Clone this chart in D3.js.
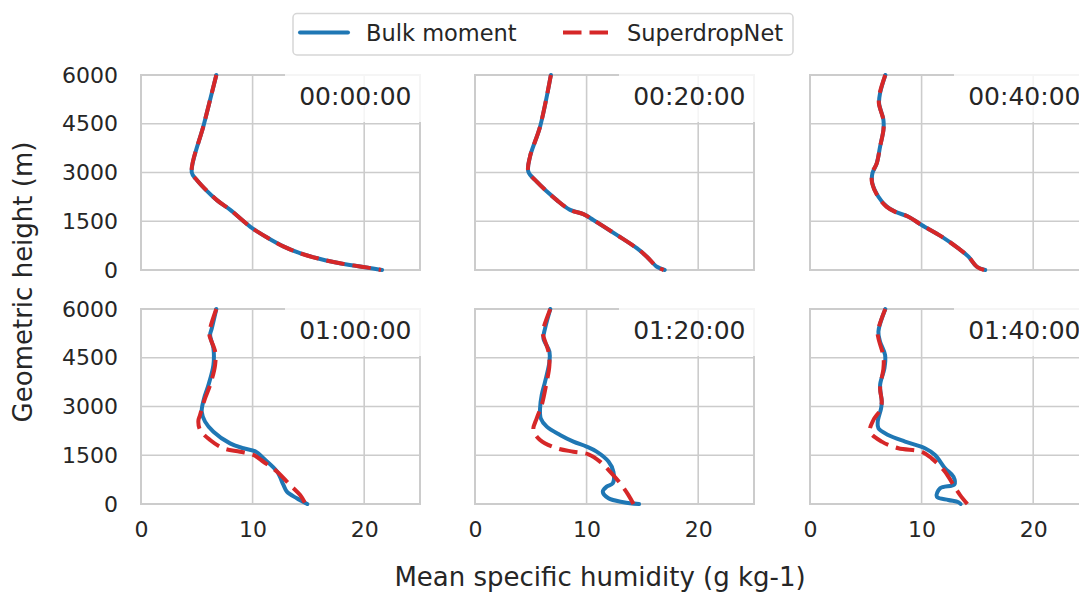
<!DOCTYPE html>
<html>
<head>
<meta charset="utf-8">
<script src="https://cdn.jsdelivr.net/npm/d3@7"></script>
<style>
  body { margin: 0; background: #fff; }
  svg { display: block; font-family: "DejaVu Sans", sans-serif; }
</style>
</head>
<body>
<svg id="chart" width="1079" height="594"></svg>
<script>
// panel titles
const times = ["00:00:00", "00:20:00", "00:40:00", "01:00:00", "01:20:00", "01:40:00"];
const seriesNames = ["Bulk moment", "SuperdropNet"];
const xTicks = [0, 10, 20];
const yTicks = [0, 1500, 3000, 4500, 6000];

// [specific humidity g/kg, height m], top to bottom
const bulk0000 = [[6.75,6000],[5.65,4500],[4.55,3000],[5.0,2770],[6.8,2150],[8.0,1850],[9.8,1330],[11.3,1000],[12.8,720],[14.3,510],[15.8,360],[17.25,245],[18.7,155],[20.2,80],[21.6,0]];
const sdn0000  = [[6.75,6000],[5.65,4500],[4.55,3000],[5.0,2770],[6.8,2150],[8.0,1850],[9.8,1330],[11.3,1000],[12.8,720],[14.3,510],[15.8,360],[17.25,245],[18.7,155],[20.2,80],[21.5,0]];

const bulk0020 = [[6.8,6000],[5.83,4410],[4.93,3490],[4.78,3025],[5.53,2720],[7.33,2150],[8.52,1850],[9.71,1720],[10.6,1540],[12.7,1080],[14.5,670],[15.4,410],[16.3,100],[17.0,0]];
const sdn0020  = [[6.8,6000],[5.83,4410],[4.93,3490],[4.78,3025],[5.53,2720],[7.33,2150],[8.52,1850],[9.71,1720],[10.6,1540],[12.7,1080],[14.5,670],[15.4,410],[16.3,100],[16.9,0]];

const bulk0040 = [[6.75,6000],[6.28,5440],[6.19,5130],[6.58,4615],[6.58,4310],[6.28,3795],[5.98,3280],[5.59,2975],[5.59,2665],[6.13,2255],[6.88,1950],[7.62,1795],[8.82,1640],[10.0,1385],[11.8,1025],[13.3,665],[14.2,410],[14.95,100],[15.7,0]];
const sdn0040  = [[6.75,6000],[6.25,5440],[6.17,5130],[6.58,4615],[6.58,4310],[6.28,3795],[5.98,3280],[5.56,2975],[5.57,2665],[6.1,2255],[6.85,1950],[7.6,1795],[8.82,1640],[10.0,1385],[11.8,1025],[13.3,665],[14.2,410],[14.95,100],[15.6,0]];

const bulk0100 = [[6.75,6000],[6.34,5400],[6.19,5200],[6.49,4790],[6.49,4280],[6.04,3660],[5.65,3250],[5.44,2840],[5.74,2535],[6.49,2225],[7.98,1865],[9.17,1715],[10.3,1610],[10.97,1405],[12.2,995],[12.76,585],[13.07,380],[13.96,175],[14.9,0]];
const sdn0100  = [[6.75,6000],[6.19,5400],[6.13,5200],[6.64,4690],[6.64,4280],[6.19,3660],[5.74,3250],[5.29,2740],[5.14,2560],[5.29,2280],[6.19,1970],[7.38,1715],[8.88,1610],[10.07,1510],[10.97,1300],[12.2,995],[13.36,585],[14.26,275],[14.75,0]];

const bulk0120 = [[6.75,6000],[6.28,5405],[6.13,5100],[6.67,4690],[6.67,4380],[6.28,3765],[5.98,3355],[5.83,2945],[5.89,2635],[6.43,2380],[7.62,2125],[8.82,1920],[10.0,1765],[10.9,1610],[11.96,1305],[12.4,995],[12.35,640],[11.8,535],[11.45,380],[11.96,175],[13.3,55],[14.7,0]];
const sdn0120  = [[6.75,6000],[6.13,5405],[6.07,5250],[6.58,4690],[6.67,4280],[6.37,3660],[5.98,3045],[5.53,2635],[5.23,2280],[5.83,1970],[7.33,1715],[8.82,1610],[10.16,1530],[11.2,1305],[12.1,995],[13.0,640],[13.75,275],[14.2,0]];

const bulk0140 = [[6.75,6000],[6.13,5305],[6.28,4995],[6.73,4585],[6.67,4175],[6.28,3660],[6.43,3150],[6.37,2945],[6.07,2535],[6.13,2330],[7.0,2125],[8.52,1920],[10.3,1715],[11.2,1510],[12.1,1100],[12.85,840],[12.94,605],[11.66,485],[11.36,225],[12.4,125],[13.3,55],[13.5,0]];
const sdn0140  = [[6.75,6000],[6.07,5305],[6.13,5100],[6.58,4535],[6.58,4175],[6.28,3560],[6.43,3150],[6.28,2890],[5.68,2585],[5.38,2225],[6.43,1920],[7.92,1715],[10.0,1610],[10.9,1405],[12.1,995],[12.85,585],[13.45,275],[14.1,0]];

const bulkSeries = [bulk0000, bulk0020, bulk0040, bulk0100, bulk0120, bulk0140];
const sdnSeries  = [sdn0000, sdn0020, sdn0040, sdn0100, sdn0120, sdn0140];

const blue = "#1f77b4", red = "#d62728", gridCol = "#cccccc", textCol = "#262626";
const dash = "18.5,8";

let svg = d3.select("#chart");
let pw = 279, ph = 195;
let colX = [141, 475, 810];
let rowY = [75, 309];

let x = d3.scaleLinear().domain([0, 25]).range([0, pw]);
let y = d3.scaleLinear().domain([0, 6000]).range([ph, 0]);

let line = d3.line()
  .x(d => x(d[0]))
  .y(d => y(d[1]))
  .curve(d3.curveCatmullRom.alpha(0.5));

svg.append("defs").append("clipPath").attr("id", "panelClip")
  .append("rect").attr("x", 0).attr("y", -3).attr("width", pw).attr("height", ph + 6);

times.forEach(function(t, i){
  let col = i % 3, row = Math.floor(i / 3);
  let g = svg.append("g").attr("transform", `translate(${colX[col]},${rowY[row]})`);

  // grid
  g.append("g").selectAll("line").data(xTicks).enter().append("line")
    .attr("x1", d => x(d)).attr("x2", d => x(d))
    .attr("y1", 0).attr("y2", ph)
    .attr("stroke", gridCol).attr("stroke-width", 1.6);
  g.append("g").selectAll("line").data(yTicks).enter().append("line")
    .attr("x1", 0).attr("x2", pw)
    .attr("y1", d => y(d)).attr("y2", d => y(d))
    .attr("stroke", gridCol).attr("stroke-width", 1.6);

  // spines
  g.append("rect")
    .attr("x", 0).attr("y", 0).attr("width", pw).attr("height", ph)
    .attr("fill", "none").attr("stroke", gridCol).attr("stroke-width", 2);

  let curves = g.append("g").attr("clip-path", "url(#panelClip)");
  curves.append("path")
    .attr("d", line(bulkSeries[i]))
    .attr("fill", "none").attr("stroke", blue)
    .attr("stroke-width", 4).attr("stroke-linejoin", "round").attr("stroke-linecap", "round");
  curves.append("path")
    .attr("d", line(sdnSeries[i]))
    .attr("fill", "none").attr("stroke", red)
    .attr("stroke-width", 4).attr("stroke-dasharray", dash).attr("stroke-linejoin", "round");

  // time label box
  g.append("rect")
    .attr("x", 144).attr("y", -5).attr("width", 140).attr("height", 52)
    .attr("fill", "#fff").attr("fill-opacity", 0.8);
  g.append("text")
    .attr("x", 270.5).attr("y", 30)
    .attr("text-anchor", "end")
    .attr("font-size", 25).attr("fill", textCol)
    .text(t);

  // tick labels
  if (col === 0){
    let ya = d3.axisLeft(y).tickValues(yTicks).tickFormat(d3.format("d")).tickSize(0).tickPadding(23);
    let yg = g.append("g").call(ya);
    yg.select(".domain").remove();
    yg.selectAll("text").attr("font-size", 22).attr("fill", textCol)
      .attr("font-family", "DejaVu Sans");
  }
  if (row === 1){
    let xa = d3.axisBottom(x).tickValues(xTicks).tickSize(0).tickPadding(17);
    let xg = g.append("g").attr("transform", `translate(0,${ph})`).call(xa);
    xg.select(".domain").remove();
    xg.selectAll("text").attr("font-size", 22).attr("fill", textCol)
      .attr("font-family", "DejaVu Sans");
  }
});

// axis labels
svg.append("text")
  .attr("x", 600).attr("y", 586)
  .attr("text-anchor", "middle")
  .attr("font-size", 26).attr("fill", textCol)
  .text("Mean specific humidity (g kg-1)");
svg.append("text")
  .attr("transform", "translate(32,282) rotate(-90)")
  .attr("text-anchor", "middle")
  .attr("font-size", 26).attr("fill", textCol)
  .text("Geometric height (m)");

// legend
let legend = svg.append("g").attr("transform", "translate(293,13.5)");
legend.append("rect")
  .attr("width", 500).attr("height", 41.5).attr("rx", 4)
  .attr("fill", "#fff").attr("stroke", "#d6d6d6").attr("stroke-width", 1.5);
legend.append("line")
  .attr("x1", 7).attr("x2", 55).attr("y1", 19).attr("y2", 19)
  .attr("stroke", blue).attr("stroke-width", 4).attr("stroke-linecap", "round");
legend.append("text")
  .attr("x", 73).attr("y", 27).attr("font-size", 22.5).attr("fill", textCol)
  .text(seriesNames[0]);
legend.append("line")
  .attr("x1", 270).attr("x2", 315).attr("y1", 19).attr("y2", 19)
  .attr("stroke", red).attr("stroke-width", 4).attr("stroke-dasharray", dash);
legend.append("text")
  .attr("x", 334).attr("y", 27).attr("font-size", 22.5).attr("fill", textCol)
  .text(seriesNames[1]);
</script>
</body>
</html>
